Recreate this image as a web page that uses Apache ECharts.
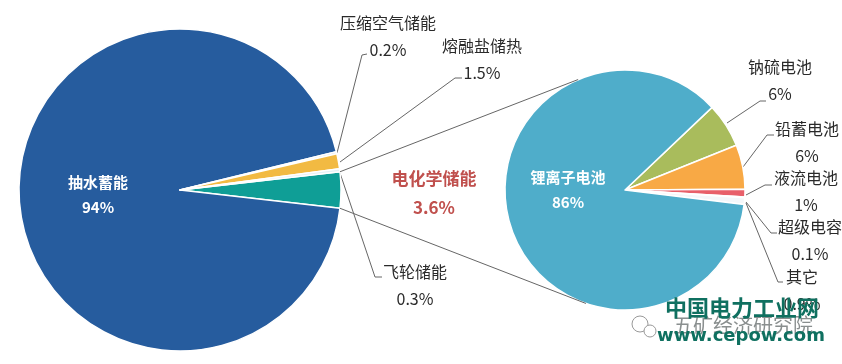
<!DOCTYPE html>
<html>
<head>
<meta charset="utf-8">
<style>
  html, body { margin: 0; padding: 0; background: #fff; }
  #main { width: 842px; height: 364px; }
</style>
<script src="https://cdn.jsdelivr.net/npm/echarts@6/dist/echarts.min.js"></script>
</head>
<body>
<div id="main"></div>
<script>
// 数据：左侧为储能类型，右侧为电化学储能的细分
const storageNames = ['电化学储能', '抽水蓄能', '压缩空气储能', '熔融盐储热', '飞轮储能'];
const storageValues = [3.6, 94, 0.2, 1.5, 0.3];
const storageColors = ['#0f9e96', '#265c9e', '#d9dde2', '#f2ba42', '#e4f1f5'];

const batteryNames = ['钠硫电池', '铅蓄电池', '液流电池', '超级电容', '其它', '锂离子电池'];
const batteryValues = [6, 6, 1, 0.1, 0.9, 86];
const batteryColors = ['#a9bc5c', '#f8a945', '#e8606a', '#6a70b4', '#f4f7fa', '#4fadca'];

const font = '"Noto Sans CJK SC", "Noto Sans", sans-serif';
const leftPie = { cx: 180, cy: 190, r: 161, start: 6.5 };
const rightPie = { cx: 625, cy: 190, r: 120, start: 43.5 };

// 标签中心位置和引导线
const storageLabels = [
  { x: 434, y: 193 },
  { x: 98, y: 195 },
  { x: 388, y: 36, line: [[337, 153], [362, 55], [367, 54]] },
  { x: 482, y: 59, line: [[340, 162], [455, 78], [462, 78]] },
  { x: 415, y: 285, line: [[340, 173], [375, 277], [382, 277]] }
];
const batteryLabels = [
  { x: 780, y: 80, line: [[727, 123], [760, 101], [766, 101]] },
  { x: 807, y: 142, line: [[743, 167], [767, 135], [774, 135]] },
  { x: 806, y: 191, line: [[746, 195], [765, 185], [772, 185]] },
  { x: 810, y: 240, line: [[746, 202], [771, 233], [777, 233]] },
  { x: 802, y: 290, line: [[746, 203], [778, 282], [783, 282]] },
  { x: 568, y: 190 }
];

function polar(p, deg) {
  const a = deg * Math.PI / 180;
  return [p.cx + p.r * Math.cos(a), p.cy - p.r * Math.sin(a)];
}

function buildData(names, values, colors, insideName, boldName) {
  return names.map((name, i) => {
    const item = { name: name, value: values[i], itemStyle: { color: colors[i] } };
    if (name === insideName) {
      item.label = { color: '#fff', fontWeight: 'bold', fontSize: 15, lineHeight: 25 };
      item.labelLine = { show: false };
    }
    if (name === boldName) {
      item.label = { color: '#c0504d', fontWeight: 'bold', fontSize: 17, lineHeight: 29 };
      item.labelLine = { show: false };
    }
    return item;
  });
}

function pieSeries(p, data, places) {
  return {
    type: 'pie',
    center: [p.cx, p.cy],
    radius: [0, p.r],
    startAngle: p.start,
    clockwise: true,
    avoidLabelOverlap: false,
    animation: false,
    silent: true,
    itemStyle: { borderColor: '#fff', borderWidth: 1.5 },
    label: {
      show: true,
      position: 'outside',
      formatter: '{b}\n{c}%',
      fontFamily: font,
      fontSize: 16,
      lineHeight: 27,
      color: '#2a2a2a',
      align: 'center'
    },
    labelLine: { show: true, lineStyle: { color: '#666', width: 1 } },
    labelLayout: function (params) {
      const place = places[params.dataIndex];
      const out = { x: place.x, y: place.y, align: 'center', verticalAlign: 'middle' };
      if (place.line) out.labelLinePoints = place.line;
      return out;
    },
    data: data
  };
}

// 电化学储能扇区的角度，用来连接两个饼图
const storageTotal = storageValues.reduce((a, b) => a + b, 0);
const sweep = storageValues[0] / storageTotal * 360;
const linkTop = [polar(leftPie, leftPie.start), polar(rightPie, 113)];
const linkBottom = [polar(leftPie, leftPie.start - sweep), polar(rightPie, -109)];

const linkStyle = { stroke: '#666', lineWidth: 1 };
function linkLine(pts) {
  return {
    type: 'line',
    silent: true,
    z: 5,
    shape: { x1: pts[0][0], y1: pts[0][1], x2: pts[1][0], y2: pts[1][1] },
    style: linkStyle
  };
}

const myChart = echarts.init(document.getElementById('main'));

const option = {
  animation: false,
  backgroundColor: '#fff',
  series: [
    pieSeries(leftPie, buildData(storageNames, storageValues, storageColors, '抽水蓄能', '电化学储能'), storageLabels),
    pieSeries(rightPie, buildData(batteryNames, batteryValues, batteryColors, '锂离子电池'), batteryLabels)
  ],
  graphic: [
    linkLine(linkTop),
    linkLine(linkBottom),
    // 水印
    { type: 'circle', z: 6, silent: true, shape: { cx: 640, cy: 324, r: 8 }, style: { fill: '#fff', stroke: '#999', lineWidth: 1 } },
    { type: 'circle', z: 6, silent: true, shape: { cx: 650, cy: 331, r: 6 }, style: { fill: '#fff', stroke: '#999', lineWidth: 1 } },
    { type: 'text', z: 6, silent: true, x: 743, y: 325, style: { text: '五矿经济研究院', font: '20px ' + font, fill: '#8a8f8f', align: 'center', verticalAlign: 'middle' } },
    { type: 'text', z: 7, silent: true, x: 742, y: 308, style: { text: '中国电力工业网', font: 'bold 22px ' + font, fill: '#0f7060', align: 'center', verticalAlign: 'middle' } },
    { type: 'text', z: 7, silent: true, x: 741, y: 336, style: { text: 'www.cepow.com', font: 'bold 18px "DejaVu Sans", sans-serif', fill: '#0f7060', align: 'center', verticalAlign: 'middle' } }
  ]
};

myChart.setOption(option);
</script>
</body>
</html>
